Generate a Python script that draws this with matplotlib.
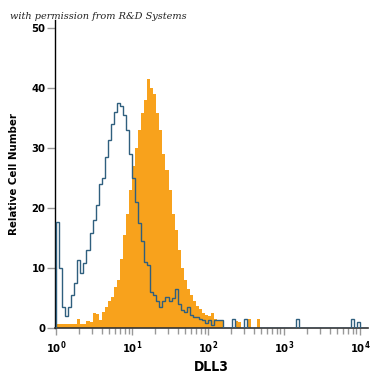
import numpy as np
import matplotlib.pyplot as plt
from matplotlib.ticker import LogLocator, NullFormatter

# bin width in log10 units
bin_w = 0.04

# isotype control (blue outline), counts per bin starting at 10^0
control = [17.7, 10, 3.5, 2, 3.5, 5.5, 7.5, 11.3, 9.2, 10.8,
           13, 15.8, 18, 20.5, 24, 25, 28.5, 31.3, 34, 36,
           37.5, 37, 35.5, 33, 29, 25, 21, 17.5, 14.5, 11,
           10.5, 6, 5.5, 4.5, 3.5, 4.5, 5.2, 4.5, 5, 6.5,
           4, 3, 2.7, 3.5, 2.2, 1.8, 1.8, 1.5, 1.3, 0.8,
           1.3, 0.6, 1.3, 1.3, 1.3, 0, 0, 0, 1.5, 0,
           0, 0, 1.5, 0, 0, 0, 0, 0, 0, 0,
           0, 0, 0, 0, 0, 0, 0, 0, 0, 1.5,
           0, 0, 0, 0, 0, 0, 0, 0, 0, 0,
           0, 0, 0, 0, 0, 0, 0, 1.5, 0, 1.0,
           0, 0]

# DLL3 stained cells (orange filled)
dll3 = [0.7, 0.7, 0.7, 0.7, 0.7, 0.7, 0.7, 1.5, 0.7, 0.7,
        1.2, 1.0, 2.5, 2.3, 1.3, 2.7, 3.5, 4.5, 5.2, 6.9,
        8, 11.5, 15.5, 19, 23, 27, 30, 33, 35.8, 38,
        41.5, 40, 39, 35.8, 33, 29, 26.3, 23, 19, 16.3,
        13, 10, 8, 6.5, 5.5, 4.5, 3.6, 3.2, 2.6, 2.2,
        2, 2.5, 1.6, 1.4, 1.2, 0, 0, 0, 0, 1.2,
        1.0, 0, 0, 1.5, 0, 0, 1.5, 0, 0, 0,
        0, 0, 0, 0, 0, 0, 0, 0, 0, 0,
        0, 0, 0, 0, 0, 0, 0, 0, 0, 0,
        0, 0, 0, 0, 0, 0, 0, 0, 0, 0,
        0, 0]

y_ticks = [0, 10, 20, 30, 40, 50]

edges = 10 ** (np.arange(len(dll3) + 1) * bin_w)

fig = plt.figure(figsize=(3.75, 3.75), dpi=100)
ax = fig.add_axes([0.147, 0.125, 0.834, 0.822])

ax.stairs(dll3, edges, fill=True, color='#f8a21c', zorder=2)
ax.stairs(control, edges, color='#2f5f7e', linewidth=1.0, zorder=3)

ax.set_xscale('log')
ax.set_xlim(10 ** -0.013, 10 ** 4.105)
ax.set_ylim(0, 51.3)

for s in ['top', 'right']:
    ax.spines[s].set_visible(False)
ax.spines['left'].set_color('black')
ax.spines['bottom'].set_color('#333333')
ax.spines['left'].set_linewidth(1.0)
ax.spines['bottom'].set_linewidth(1.2)

tf = dict(fontfamily='DejaVu Sans', fontstretch='condensed', fontweight='bold')
ax.set_yticks(y_ticks)
ax.set_yticklabels([str(t) for t in y_ticks], fontsize=8, **tf)
ax.xaxis.set_major_locator(LogLocator(base=10, numticks=10))
ax.xaxis.set_minor_locator(LogLocator(base=10, subs=np.arange(2, 10), numticks=50))
ax.xaxis.set_minor_formatter(NullFormatter())
ax.tick_params(axis='y', length=6, width=1, color='#999999', pad=1)
ax.tick_params(axis='x', which='major', length=5, width=1, color='#999999', pad=3,
               labelsize=8)
ax.tick_params(axis='x', which='minor', length=4, width=1, color='#999999')
for lab in ax.get_xticklabels():
    lab.set_fontfamily('DejaVu Sans')
    lab.set_fontstretch('condensed')
    lab.set_fontweight('bold')

ax.set_xlabel('DLL3', fontsize=10, labelpad=3, **tf)
ax.set_ylabel('Relative Cell Number', fontsize=8.2, labelpad=9, **tf)

fig.text(0.027, 0.955, 'with permission from R&D Systems', fontfamily='DejaVu Serif',
         style='italic', fontsize=7, color='#222222', va='center')

fig.savefig('out.png', dpi=100)
